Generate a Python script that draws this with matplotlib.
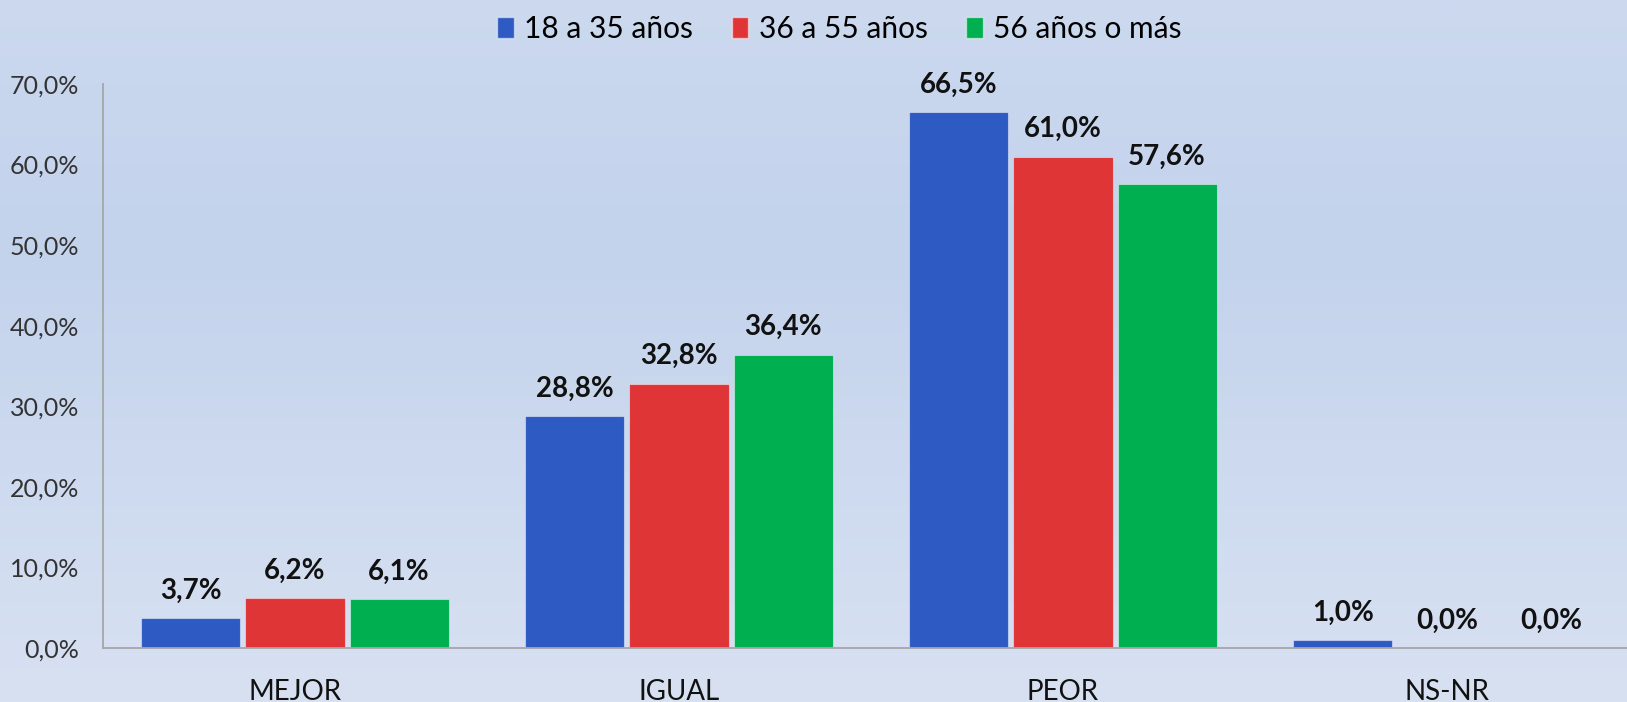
import numpy as np
import matplotlib.pyplot as plt
from matplotlib.colors import LinearSegmentedColormap
from matplotlib.patches import Patch

plt.rcParams['font.family'] = ['Lato', 'DejaVu Sans']

categorias = ["MEJOR", "IGUAL", "PEOR", "NS-NR"]
series = ["18 a 35 años", "36 a 55 años", "56 años o más"]
jovenes = [3.7, 28.8, 66.5, 1.0]
adultos = [6.2, 32.8, 61.0, 0.0]
mayores = [6.1, 36.4, 57.6, 0.0]
yticks = [0, 10, 20, 30, 40, 50, 60, 70]

colores = ["#2E5BC3", "#E03537", "#00AF50"]

fig = plt.figure(figsize=(16.27, 7.02), dpi=100)

# fondo degradado
bg = fig.add_axes([0, 0, 1, 1], zorder=-10)
cmap = LinearSegmentedColormap.from_list(
    "fondo", [(0, "#CCD9EF"), (0.35, "#C3D3EC"), (1, "#D8E1F2")])
grad = np.linspace(0, 1, 256).reshape(-1, 1)
bg.imshow(grad, aspect="auto", cmap=cmap, extent=[0, 1, 0, 1], origin="upper")
bg.axis("off")

ax = fig.add_axes([103 / 1627, 54 / 702, 1524 / 1627, 564 / 702])
ax.set_facecolor("none")

x = np.arange(len(categorias))
paso = 0.271
ancho = 0.258
for i, (vals, col) in enumerate(zip([jovenes, adultos, mayores], colores)):
    pos = x + (i - 1) * paso
    ax.bar(pos, vals, ancho, color=col, edgecolor=(1, 1, 1, 0.45), linewidth=0.8)
    for px, v in zip(pos, vals):
        ax.annotate(f"{v:.1f}%".replace(".", ","), (px, v), xytext=(0, 14),
                    textcoords="offset points", ha="center", va="baseline",
                    fontsize=20, fontweight="bold", color="#111111")

ax.set_xlim(-0.5, 3.46875)
ax.set_ylim(0, 70)
ax.set_yticks(yticks)
ax.set_yticklabels([f"{t},0%" for t in yticks], fontsize=18, color="#333333")
ax.set_xticks(x)
ax.set_xticklabels(categorias, fontsize=20, color="#111111")
ax.tick_params(axis="both", length=0)
ax.tick_params(axis="x", pad=22)
ax.tick_params(axis="y", pad=17)
for s in ["top", "right"]:
    ax.spines[s].set_visible(False)
for s in ["left", "bottom"]:
    ax.spines[s].set_color("#A6A6A6")
    ax.spines[s].set_linewidth(1.3)

handles = [Patch(facecolor=c, edgecolor=(1, 1, 1, 0.5)) for c in colores]
fig.legend(handles, series, loc="upper center", bbox_to_anchor=(0.516, 1.017),
           ncol=3, frameon=False, fontsize=21.5, handlelength=0.55, handleheight=0.75,
           handletextpad=0.35, columnspacing=1.3)

fig.savefig("out.png", dpi=100)
